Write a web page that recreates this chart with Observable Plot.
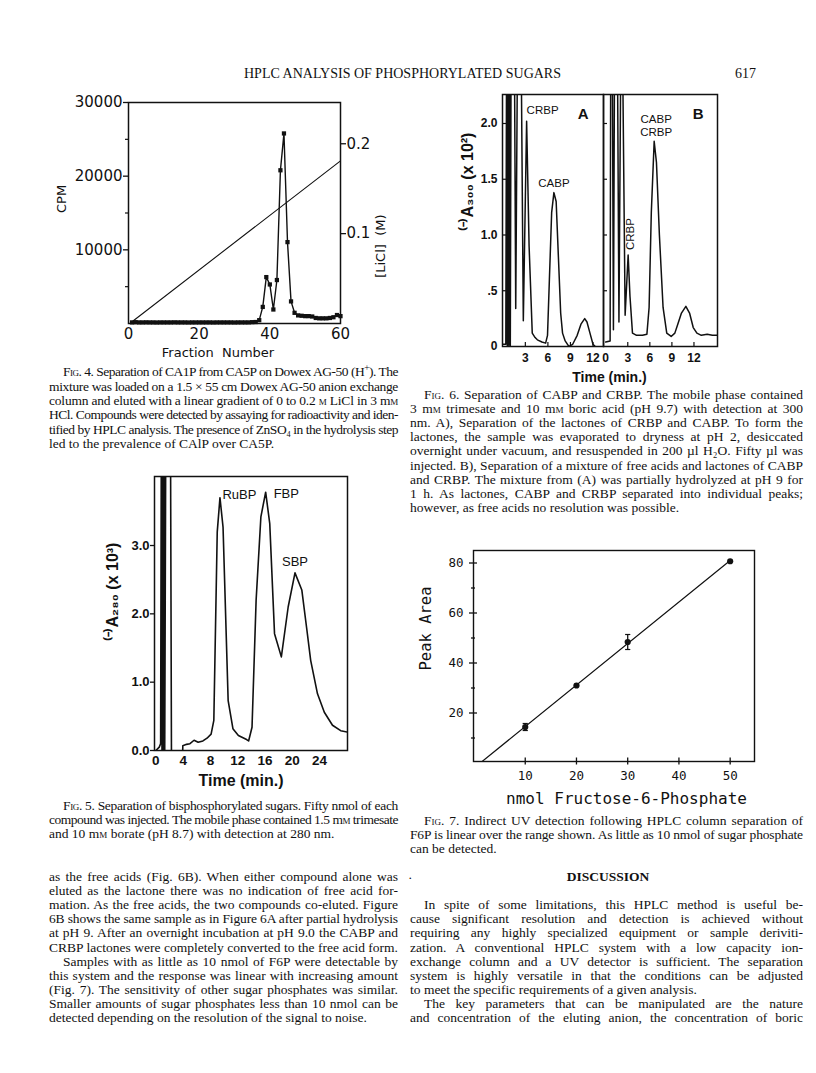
<!DOCTYPE html>
<html><head><meta charset="utf-8">
<script src="https://cdn.jsdelivr.net/npm/d3@7"></script>
<script src="https://cdn.jsdelivr.net/npm/@observablehq/plot@0.6"></script>
<style>
body{margin:0;background:#fff}
#page{position:relative;width:816px;height:1073px;overflow:hidden;background:#fff;color:#111;font-family:"Liberation Serif","Times New Roman",serif}
.ln{position:absolute;white-space:nowrap;font-size:13px;line-height:14px}
.sc{font-variant:small-caps}
.fig{position:absolute}
sup{font-size:70%;line-height:0}
</style></head><body><div id="page"></div>
<script>
// ================= DATA =================
// Fig. 4  (fraction number, CPM; LiCl gradient)
const fig4Fraction = [1,2,3,4,5,6,7,8,9,10,11,12,13,14,15,16,17,18,19,20,21,22,23,24,25,26,27,28,29,30,31,32,33,34,35,36,37,38,39,40,41,42,43,44,45,46,47,48,49,50,51,52,53,54,55,56,57,58,59,60];
const fig4Cpm = [150,180,150,150,160,150,150,140,150,150,
                 150,150,160,150,150,150,140,150,150,150,
                 150,150,150,140,150,150,150,150,150,140,
                 150,150,150,150,180,200,
                 450,2250,6300,5300,1900,5900,20800,25800,
                 11050,3000,1450,1100,1050,1000,1000,950,
                 750,700,700,700,750,850,1150,1000];
const fig4LiclFraction = [1, 60];
const fig4LiclMolar = [0.002, 0.181];
const fig4CpmTicks = [10000, 20000, 30000];
const fig4CpmMinorTicks = [5000, 15000, 25000];
const fig4FractionTicks = [0, 20, 40, 60];
const fig4LiclTicks = [0.1, 0.2];
const fig4LiclTickLabels = ["0.1", "0.2"];

// Fig. 6 A and B (time, min; (-)A300 x 10^2)
const fig6aTime = [0,0.4,0.5,0.6,0.7,0.8,0.9,1.0,1.1,1.55,1.72,1.95,2.45,2.73,3.17,3.5,3.92,4.3,4.6,5.2,5.7,5.95,6.2,6.5,6.8,7.1,7.4,7.7,7.95,8.3,8.8,9.3,9.9,10.4,10.9,11.2,11.6,12.0,12.3];
const fig6aSignal = [0.02,0.02,2.6,0.01,2.6,0.01,2.6,0.01,2.6,2.6,0.34,2.6,2.6,0.23,2.02,0.9,0.12,0.08,0.06,0.04,0.03,0.1,0.6,1.2,1.38,1.3,0.8,0.3,0.12,0.05,0.0,0.02,0.1,0.2,0.25,0.22,0.12,0.02,0.0];
const fig6bTime = [0,0.6,0.68,0.9,1.05,1.2,1.6,1.8,2.05,2.3,2.64,3.05,3.3,3.64,4.2,5.0,5.6,5.9,6.2,6.59,6.9,7.3,7.8,8.3,8.9,9.4,9.8,10.3,10.9,11.4,11.9,12.4,13.0,13.8,14.5,15.2];
const fig6bSignal = [0.04,0.05,2.6,2.6,0.15,2.6,2.6,0.22,2.6,2.6,0.28,0.82,0.45,0.12,0.1,0.1,0.11,0.35,1.2,1.84,1.65,1.0,0.35,0.12,0.09,0.12,0.2,0.3,0.36,0.3,0.17,0.12,0.1,0.11,0.1,0.1];
const fig6YTicks = [0, 0.5, 1.0, 1.5, 2.0];
const fig6YTickLabels = ["0", ".5", "1.0", "1.5", "2.0"];
const fig6aXTicks = [3, 6, 9, 12];
const fig6bXTicks = [0, 3, 6, 9, 12];
const fig6aPeakNames = ["CRBP", "CABP"];
const fig6aPeakTimes = [3.17, 6.8];
const fig6bPeakNames = ["CRBP", "CABP\nCRBP"];
const fig6bPeakTimes = [3.05, 6.59];

// Fig. 5 (time, min; (-)A280 x 10^3)
const fig5Time = [0,0.5,0.7,0.8,0.9,1.0,1.1,1.2,1.3,1.45,2.15,2.3,3.85,3.95,4.5,5.0,5.6,6.2,6.9,7.5,8.1,8.5,9.0,9.4,9.85,10.6,11.3,12.1,13.3,13.6,14.1,14.7,15.4,16.1,16.7,17.4,18.4,19.4,20.4,21.4,22.1,22.7,23.7,24.7,25.9,27.1,28.1];
const fig5Signal = [0.0,0.05,0.1,4.5,0.0,4.5,0.0,4.5,0.0,4.5,4.5,-0.5,-0.5,0.07,0.09,0.1,0.15,0.12,0.14,0.18,0.24,0.44,3.2,3.7,3.27,0.73,0.32,0.22,0.16,0.14,0.34,2.2,3.42,3.78,3.32,1.71,1.37,2.1,2.6,2.35,1.8,1.32,0.83,0.56,0.37,0.29,0.27];
const fig5YTicks = [0, 1, 2, 3];
const fig5XTicks = [0, 4, 8, 12, 16, 20, 24];
const fig5PeakNames = ["RuBP", "FBP", "SBP"];
const fig5PeakTimes = [9.4, 16.1, 20.4];

// Fig. 7 (nmol F6P, peak area)
const fig7Nmol = [10, 20, 30, 50];
const fig7Area = [14.4, 31, 48.4, 80.7];
const fig7Error = [1.4, 0, 3.0, 0];
const fig7YTicks = [20, 40, 60, 80];
const fig7YMinorTicks = [10, 30, 50, 70];
const fig7XTicks = [10, 20, 30, 40, 50];

// ================= HELPERS =================
const page = document.getElementById("page");
const ink = "#111";
const TXT = 13.5;
const baseStyle = {background: "transparent", overflow: "visible", maxWidth: "none", color: ink};
function place(svg, left, top) {
  const d = document.createElement("div");
  d.className = "fig"; d.style.left = left + "px"; d.style.top = top + "px";
  d.appendChild(svg); page.appendChild(d);
}
function textLine(html, {left, yc, width = null, indent = 0, size = TXT, justify = true, weight = "normal"}) {
  const el = document.createElement("div");
  el.className = "ln";
  el.style.left = (left + indent) + "px";
  el.style.top = (yc - 8) + "px";
  el.style.fontSize = size + "px";
  el.style.fontWeight = weight;
  el.innerHTML = html;
  page.appendChild(el);
  if (width) {
    const natural = el.getBoundingClientRect().width;
    const extra = width - indent - natural;
    const gaps = (el.textContent.match(/ /g) || []).length;
    if (extra < 0) {
      el.style.letterSpacing = (extra / el.textContent.length).toFixed(3) + "px";
    } else if (justify && gaps) {
      el.style.wordSpacing = (extra / gaps).toFixed(3) + "px";
    }
  }
  return el;
}
function paragraph(lines, {left, width, y0, step, indent = 14, firstIndent = true, lastJustify = false, size = TXT}) {
  lines.forEach((html, i) => {
    const last = i === lines.length - 1;
    textLine(html, {left, yc: y0 + i * step, width: (!last || lastJustify) ? width : null,
      indent: (i === 0 && firstIndent) ? indent : 0, size, justify: true});
  });
}
const sc = s => `<span class="sc">${s}</span>`;
const peakAt = (times, values, t) => ({t, v: values[times.indexOf(t)]});

// ================= HEADER =================
{
  const h = textLine("HPLC ANALYSIS OF PHOSPHORYLATED SUGARS", {left: 244, yc: 75, size: 14});
  const w = h.getBoundingClientRect().width;
  h.style.letterSpacing = ((317 - w) / h.textContent.length).toFixed(3) + "px";
  textLine("617", {left: 735, yc: 75, size: 14});
}

// ================= FIG. 4 =================
{
  const data = fig4Fraction.map((f, i) => ({f, cpm: fig4Cpm[i]}));
  const licl = fig4LiclFraction.map((f, i) => ({f, m: fig4LiclMolar[i]}));
  const cpmPerMolar = 122000; // right axis is drawn on the left scale
  const font = "'DejaVu Sans', sans-serif";
  const svg = Plot.plot({
    width: 420, height: 310, marginLeft: 128, marginRight: 80, marginTop: 42, marginBottom: 47,
    x: {domain: [0, 60]}, y: {domain: [0, 30000]},
    style: {...baseStyle, fontFamily: font},
    marks: [
      Plot.axisY({ticks: fig4CpmTicks, tickSize: 5, tickPadding: 1, tickFormat: d => String(d), label: null, fontSize: 15, strokeWidth: 1.3}),
      Plot.axisY({ticks: fig4CpmMinorTicks, tickSize: 3, tickFormat: () => "", label: null, strokeWidth: 1.2}),
      Plot.axisY({anchor: "right", ticks: fig4LiclTicks.map(m => m * cpmPerMolar), tickSize: 5, tickPadding: 1,
        tickFormat: d => fig4LiclTickLabels[fig4LiclTicks.findIndex(m => Math.abs(m * cpmPerMolar - d) < 1e-6)],
        label: null, fontSize: 15, strokeWidth: 1.3}),
      Plot.axisX({ticks: fig4FractionTicks, tickSize: 0, tickPadding: 5, label: null, fontSize: 15}),
      Plot.frame({stroke: ink, strokeWidth: 1.5}),
      Plot.line(licl, {x: "f", y: d => d.m * cpmPerMolar, stroke: ink, strokeWidth: 1.1}),
      Plot.line(data, {x: "f", y: "cpm", stroke: ink, strokeWidth: 1.4}),
      Plot.dot(data, {x: "f", y: "cpm", symbol: "square", r: 2.4, fill: ink}),
      Plot.text(["CPM"], {text: d => d, frameAnchor: "left", rotate: -90, dx: -67, fontSize: 13, fill: ink}),
      Plot.text(["[LiCl]  (M)"], {text: d => d, frameAnchor: "right", rotate: -90, dx: 40, dy: 1.5, fontSize: 13, fill: ink}),
      Plot.text(["Fraction  Number"], {text: d => d, frameAnchor: "bottom", dx: -16.5, dy: 33, fontSize: 13, fill: ink})
    ]
  });
  place(svg, 0, 60);
}

// ================= FIG. 6 =================
{
  const font = "'Liberation Sans', Arial, sans-serif";
  const aData = fig6aTime.map((t, i) => ({t, v: fig6aSignal[i]}));
  const bData = fig6bTime.map((t, i) => ({t, v: fig6bSignal[i]}));
  const yFmt = d => fig6YTickLabels[fig6YTicks.indexOf(d)];
  const common = (xTicks) => [
    Plot.axisY({ticks: fig6YTicks.slice(1), tickSize: 4, dx: 4, tickFormat: () => "", label: null, strokeWidth: 1.2}),
    Plot.axisX({ticks: xTicks.filter(d => d > 0), tickSize: 4, dy: -4, tickFormat: () => "", label: null, strokeWidth: 1.2}),
    Plot.axisX({ticks: xTicks, tickSize: 0, tickPadding: 7, label: null, fontWeight: "bold", fontSize: 12}),
  ];
  const A = Plot.plot({
    width: 170, height: 310, marginLeft: 62, marginRight: 7, marginTop: 8, marginBottom: 50,
    x: {domain: [-0.04, 13.4]}, y: {domain: [0, 2.26]},
    style: {...baseStyle, fontFamily: font},
    marks: [
      Plot.axisY({ticks: fig6YTicks, tickSize: 0, tickPadding: 5, tickFormat: yFmt, label: null, fontWeight: "bold", fontSize: 12}),
      ...common(fig6aXTicks),
      Plot.line(aData, {x: "t", y: "v", clip: true, stroke: ink, strokeWidth: 1.5}),
      Plot.frame({stroke: ink, strokeWidth: 1.5}),
      Plot.text([peakAt(fig6aTime, fig6aSignal, fig6aPeakTimes[0])], {x: "t", y: "v", text: () => fig6aPeakNames[0], textAnchor: "start", dy: -11, fontSize: 11.5, fill: ink}),
      Plot.text([peakAt(fig6aTime, fig6aSignal, fig6aPeakTimes[1])], {x: "t", y: "v", text: () => fig6aPeakNames[1], dy: -9, fontSize: 11.5, fill: ink}),
      Plot.text(["A"], {text: d => d, frameAnchor: "top-right", dx: -15, dy: 14, fontWeight: "bold", fontSize: 15, fill: ink}),
      Plot.text(["⁽⁻⁾A₃₀₀ (x 10²)"], {text: d => d, frameAnchor: "left", rotate: -90, dx: -34.5, dy: 10, fontWeight: "bold", fontSize: 16, fill: ink})
    ]
  });
  place(A, 440, 86);
  const B = Plot.plot({
    width: 130, height: 310, marginLeft: 7, marginRight: 9, marginTop: 8, marginBottom: 50,
    x: {domain: [-0.3, 15.2]}, y: {domain: [0, 2.26]},
    style: {...baseStyle, fontFamily: font},
    marks: [
      ...common(fig6bXTicks),
      Plot.line(bData, {x: "t", y: "v", clip: true, stroke: ink, strokeWidth: 1.5}),
      Plot.frame({stroke: ink, strokeWidth: 1.5}),
      Plot.text([peakAt(fig6bTime, fig6bSignal, fig6bPeakTimes[0])], {x: "t", y: "v", text: () => fig6bPeakNames[0], rotate: -90, textAnchor: "start", dx: 2.5, dy: -5, fontSize: 11.5, fill: ink}),
      Plot.text([peakAt(fig6bTime, fig6bSignal, fig6bPeakTimes[1])], {x: "t", y: "v", text: () => fig6bPeakNames[1], dx: 2, dy: -16, lineHeight: 1.15, fontSize: 11.5, fill: ink}),
      Plot.text(["B"], {text: d => d, frameAnchor: "top-right", dx: -14, dy: 14, fontWeight: "bold", fontSize: 15, fill: ink}),
      Plot.text(["Time (min.)"], {text: d => d, frameAnchor: "bottom", dx: -51, dy: 35, fontWeight: "bold", fontSize: 14, fill: ink})
    ]
  });
  place(B, 596, 86);
}

// ================= FIG. 5 =================
{
  const font = "'Liberation Sans', Arial, sans-serif";
  const data = fig5Time.map((t, i) => ({t, v: fig5Signal[i]}));
  const pk = fig5PeakTimes.map(t => peakAt(fig5Time, fig5Signal, t));
  const svg = Plot.plot({
    width: 300, height: 340, marginLeft: 94, marginRight: 13, marginTop: 16, marginBottom: 50,
    x: {domain: [-0.2, 28.1]}, y: {domain: [0, 4.01]},
    style: {...baseStyle, fontFamily: font},
    marks: [
      Plot.axisY({ticks: fig5YTicks, tickSize: 4, tickPadding: 1, tickFormat: d3.format(".1f"), label: null, fontWeight: "bold", fontSize: 13, strokeWidth: 1.3}),
      Plot.axisX({ticks: fig5XTicks, tickSize: 0, tickPadding: 5, label: null, fontWeight: "bold", fontSize: 13.5}),
      Plot.line(data, {x: "t", y: "v", clip: true, stroke: ink, strokeWidth: 1.6}),
      Plot.frame({stroke: ink, strokeWidth: 1.5}),
      Plot.text([pk[0]], {x: "t", y: "v", text: () => fig5PeakNames[0], textAnchor: "start", dx: 2.5, dy: -3, fontSize: 13, fill: ink}),
      Plot.text([pk[1]], {x: "t", y: "v", text: () => fig5PeakNames[1], textAnchor: "start", dx: 8, dy: 2, fontSize: 13, fill: ink}),
      Plot.text([pk[2]], {x: "t", y: "v", text: () => fig5PeakNames[2], dy: -11, fontSize: 13, fill: ink}),
      Plot.text(["⁽⁻⁾A₂₈₀ (x 10³)"], {text: d => d, frameAnchor: "left", rotate: -90, dx: -42, dy: 27, fontWeight: "bold", fontSize: 16, fill: ink}),
      Plot.text(["Time (min.)"], {text: d => d, frameAnchor: "bottom", dx: -10, dy: 35, fontWeight: "bold", fontSize: 16, fill: ink})
    ]
  });
  place(svg, 60, 460);
}

// ================= FIG. 7 =================
{
  const font = "'DejaVu Sans Mono', monospace";
  const pts = fig7Nmol.map((x, i) => ({x, y: fig7Area[i], e: fig7Error[i]}));
  const mx = d3.mean(fig7Nmol), my = d3.mean(fig7Area);
  const slope = d3.sum(fig7Nmol, (x, i) => (x - mx) * (fig7Area[i] - my)) / d3.sum(fig7Nmol, x => (x - mx) ** 2);
  const intercept = my - slope * mx;
  const xmax = d3.max(fig7Nmol);
  const fit = [{x: -intercept / slope, y: 0}, {x: xmax, y: intercept + slope * xmax}];
  const bars = pts.filter(d => d.e > 0);
  const caps = bars.flatMap(d => [{x: d.x, y: d.y + d.e}, {x: d.x, y: d.y - d.e}]);
  const capSymbol = {draw(ctx, size) { const w = Math.sqrt(size / Math.PI); ctx.moveTo(-w, 0); ctx.lineTo(w, 0); }};
  const svg = Plot.plot({
    width: 360, height: 290, marginLeft: 63, marginRight: 16, marginTop: 20, marginBottom: 59,
    x: {domain: [-0.1, 54.75]}, y: {domain: [0.6, 85]},
    style: {...baseStyle, fontFamily: font},
    marks: [
      Plot.axisY({ticks: fig7YTicks, tickSize: 0, tickPadding: 10, label: null, fontSize: 12.5}),
      Plot.axisY({ticks: fig7YTicks, tickSize: 8, dx: 4, tickFormat: () => "", label: null, strokeWidth: 1.3}),
      Plot.axisY({ticks: fig7YMinorTicks, tickSize: 4, dx: 2, tickFormat: () => "", label: null, strokeWidth: 1.3}),
      Plot.axisX({ticks: fig7XTicks, tickSize: 0, tickPadding: 10, label: null, fontSize: 12.5}),
      Plot.axisX({ticks: fig7XTicks, tickSize: 7, dy: -3.5, tickFormat: () => "", label: null, strokeWidth: 1.3}),
      Plot.frame({stroke: ink, strokeWidth: 1.4}),
      Plot.line(fit, {x: "x", y: "y", clip: true, stroke: ink, strokeWidth: 1.2}),
      Plot.ruleX(bars, {x: "x", y1: d => d.y - d.e, y2: d => d.y + d.e, stroke: ink, strokeWidth: 1.3}),
      Plot.dot(caps, {x: "x", y: "y", symbol: capSymbol, r: 2.6, stroke: ink, fill: "none", strokeWidth: 1.2}),
      Plot.dot(pts, {x: "x", y: "y", r: 3.1, fill: ink}),
      Plot.text(["Peak Area"], {text: d => d, frameAnchor: "left", rotate: -90, dx: -47, dy: 14.5, fontSize: 15.5, fill: ink}),
      Plot.text(["nmol Fructose-6-Phosphate"], {text: d => d, frameAnchor: "bottom", dx: 12.5, dy: 42, fontSize: 16, fill: ink})
    ]
  });
  place(svg, 410, 530);
}

// ================= CAPTIONS & BODY TEXT =================
const L = {left: 49, width: 349};
const R = {left: 410, width: 393};

paragraph([
  `${sc("Fig")}. 4. Separation of CA1P from CA5P on Dowex AG-50 (H<sup>+</sup>). The`,
  `mixture was loaded on a 1.5 × 55 cm Dowex AG-50 anion exchange`,
  `column and eluted with a linear gradient of 0 to 0.2 ${sc("m")} LiCl in 3 m${sc("m")}`,
  `HCl. Compounds were detected by assaying for radioactivity and iden-`,
  `tified by HPLC analysis. The presence of ZnSO₄ in the hydrolysis step`,
  `led to the prevalence of CAlP over CA5P.`
], {...L, y0: 373.3, step: 14.35});

paragraph([
  `${sc("Fig")}. 6. Separation of CABP and CRBP. The mobile phase contained`,
  `3 m${sc("m")} trimesate and 10 m${sc("m")} boric acid (pH 9.7) with detection at 300`,
  `nm. A), Separation of the lactones of CRBP and CABP. To form the`,
  `lactones, the sample was evaporated to dryness at pH 2, desiccated`,
  `overnight under vacuum, and resuspended in 200 µl H₂O. Fifty µl was`,
  `injected. B), Separation of a mixture of free acids and lactones of CABP`,
  `and CRBP. The mixture from (A) was partially hydrolyzed at pH 9 for`,
  `1 h. As lactones, CABP and CRBP separated into individual peaks;`,
  `however, as free acids no resolution was possible.`
], {...R, y0: 396, step: 14.1});

paragraph([
  `${sc("Fig")}. 5. Separation of bisphosphorylated sugars. Fifty nmol of each`,
  `compound was injected. The mobile phase contained 1.5 m${sc("m")} trimesate`,
  `and 10 m${sc("m")} borate (pH 8.7) with detection at 280 nm.`
], {...L, y0: 807, step: 14});

paragraph([
  `${sc("Fig")}. 7. Indirect UV detection following HPLC column separation of`,
  `F6P is linear over the range shown. As little as 10 nmol of sugar phosphate`,
  `can be detected.`
], {...R, y0: 822, step: 14});

paragraph([
  `as the free acids (Fig. 6B). When either compound alone was`,
  `eluted as the lactone there was no indication of free acid for-`,
  `mation. As the free acids, the two compounds co-eluted. Figure`,
  `6B shows the same sample as in Figure 6A after partial hydrolysis`,
  `at pH 9. After an overnight incubation at pH 9.0 the CABP and`,
  `CRBP lactones were completely converted to the free acid form.`
], {...L, y0: 878, step: 14.1, firstIndent: false, lastJustify: true});

paragraph([
  `Samples with as little as 10 nmol of F6P were detectable by`,
  `this system and the response was linear with increasing amount`,
  `(Fig. 7). The sensitivity of other sugar phosphates was similar.`,
  `Smaller amounts of sugar phosphates less than 10 nmol can be`,
  `detected depending on the resolution of the signal to noise.`
], {...L, y0: 878 + 6 * 14.1, step: 14.1});

textLine("·", {left: 408, yc: 879});
{
  const d = textLine("DISCUSSION", {left: 0, yc: 878, weight: "bold"});
  const w = d.getBoundingClientRect().width;
  d.style.left = (608 - w / 2) + "px";
}

paragraph([
  `In spite of some limitations, this HPLC method is useful be-`,
  `cause significant resolution and detection is achieved without`,
  `requiring any highly specialized equipment or sample deriviti-`,
  `zation. A conventional HPLC system with a low capacity ion-`,
  `exchange column and a UV detector is sufficient. The separation`,
  `system is highly versatile in that the conditions can be adjusted`,
  `to meet the specific requirements of a given analysis.`
], {...R, y0: 906.2, step: 14.1});

paragraph([
  `The key parameters that can be manipulated are the nature`,
  `and concentration of the eluting anion, the concentration of boric`
], {...R, y0: 906.2 + 7 * 14.1, step: 14.1, lastJustify: true});
</script></body></html>
